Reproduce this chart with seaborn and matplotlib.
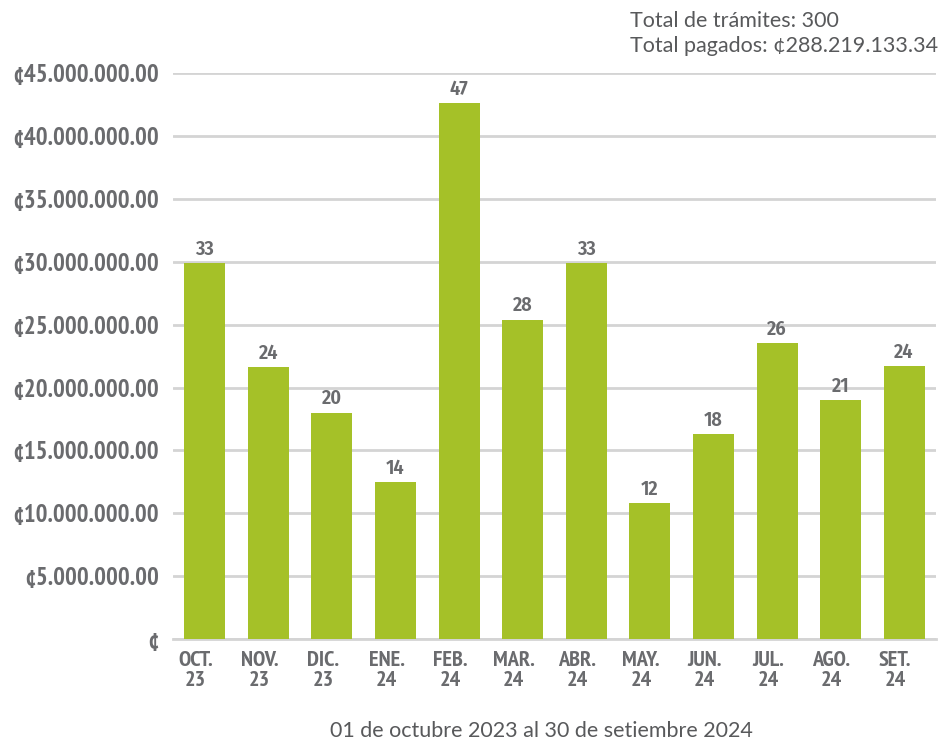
import matplotlib
matplotlib.use("Agg")
import matplotlib.pyplot as plt
import matplotlib.transforms as mtransforms
from matplotlib.ticker import FuncFormatter, MultipleLocator, FixedLocator
import seaborn as sns
import pandas as pd

# Datos (montos pagados por mes, en colones)
meses = ["OCT.", "NOV.", "DIC.", "ENE.", "FEB.", "MAR.", "ABR.", "MAY.", "JUN.", "JUL.", "AGO.", "SET."]
anios = ["23", "23", "23", "24", "24", "24", "24", "24", "24", "24", "24", "24"]
montos = [29.92e6, 21.62e6, 18.0e6, 12.47e6, 42.64e6, 25.4e6, 29.92e6, 10.82e6, 16.31e6, 23.55e6, 19.01e6, 21.72e6]
tramites = [33, 24, 20, 14, 47, 28, 33, 12, 18, 26, 21, 24]

total_tramites = "Total de trámites: 300"
total_pagados = "Total pagados: ¢288.219.133.34"
periodo = "01 de octubre 2023 al 30 de setiembre 2024"

verde = "#a5c128"
gris_txt = "#6a6b6e"
gris_lin = "#d4d4d4"

sns.set_style("white")
narrow = "PT Sans Narrow"

df = pd.DataFrame({"mes": [m + "\n" + a for m, a in zip(meses, anios)], "monto": montos})

fig = plt.figure(figsize=(9.43, 7.4), dpi=100)
ax = fig.add_axes([173 / 943, 1 - 639 / 740, (936 - 173) / 943, (639 - 73.3) / 740])

sns.barplot(data=df, x="mes", y="monto", color=verde, saturation=1, width=0.645, ax=ax,
            zorder=3, linewidth=0, edgecolor="none")

ax.set_ylim(0, 45e6)
ax.set_xlim(-0.5, len(meses) - 0.5)
ax.yaxis.set_major_locator(MultipleLocator(5e6))

def fmt(v, pos):
    if v == 0:
        return "¢"
    return "¢" + f"{v:,.2f}".replace(",", ".")

ax.yaxis.set_major_formatter(FuncFormatter(fmt))
ax.grid(axis="y", color=gris_lin, linewidth=2, zorder=0)
ax.grid(axis="x", visible=False)
for s in ["top", "right", "left"]:
    ax.spines[s].set_visible(False)
ax.spines["bottom"].set_color(gris_lin)
ax.spines["bottom"].set_linewidth(2)

# marcas entre categorias, hacia arriba
ax.xaxis.set_minor_locator(FixedLocator([i - 0.5 for i in range(len(meses) + 1)]))
ax.tick_params(axis="x", which="minor", direction="in", length=10, width=2, color=gris_lin)
ax.tick_params(axis="x", which="major", length=0, pad=9)
ax.tick_params(axis="y", length=0, pad=10)

for lab in ax.get_yticklabels():
    lab.set_fontfamily(narrow)
    lab.set_fontweight("bold")
    lab.set_fontsize(17.8)
    lab.set_color(gris_txt)

desp = mtransforms.ScaledTranslation(-9 / 100, 0, fig.dpi_scale_trans)
for lab in ax.get_xticklabels():
    lab.set_fontfamily(narrow)
    lab.set_fontweight("bold")
    lab.set_fontsize(16)
    lab.set_color(gris_txt)
    lab.set_linespacing(1.0)
    lab.set_transform(lab.get_transform() + desp)

ax.set_xlabel("")
ax.set_ylabel("")

ax.bar_label(ax.containers[0], labels=[str(t) for t in tramites], padding=3,
             fontfamily="Fira Sans Condensed", fontweight=600, fontsize=14.5, color=gris_txt)

fig.text(630 / 943, 1 - 27 / 740, total_tramites, family="Lato", fontsize=15.5,
         color="#58595b", va="baseline", ha="left")
fig.text(630 / 943, 1 - 52 / 740, total_pagados, family="Lato", fontsize=15.5,
         color="#58595b", va="baseline", ha="left")
fig.text(541 / 943, 1 - 737 / 740, periodo, family="Lato", fontsize=15.5,
         color="#58595b", va="baseline", ha="center")

fig.savefig("out.png", dpi=100)
